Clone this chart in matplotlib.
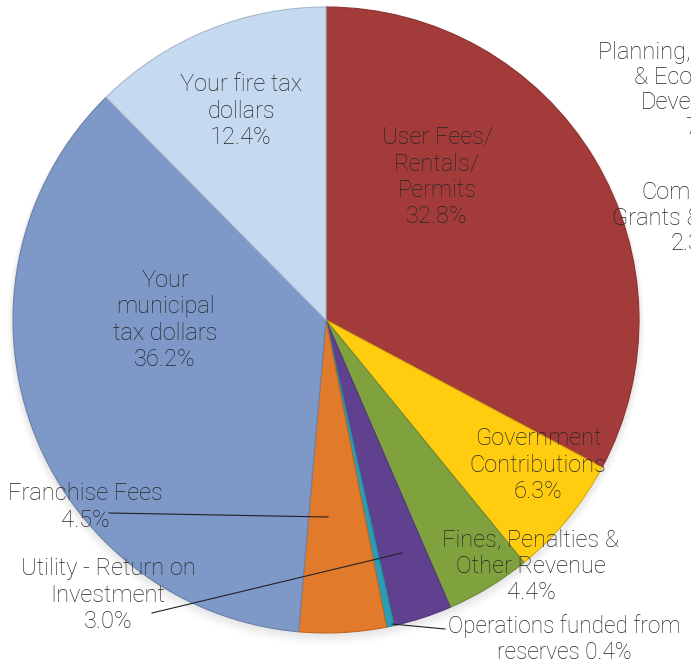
import matplotlib
matplotlib.use("Agg")
import matplotlib.pyplot as plt
import numpy as np

# Revenue sources, clockwise from 12 o'clock
sources = ["User Fees/\nRentals/\nPermits", "Government\nContributions",
           "Fines, Penalties &\nOther Revenue", "Utility - Return on\nInvestment",
           "Operations funded from\nreserves", "Franchise Fees",
           "Your\nmunicipal\ntax dollars", "Your fire tax\ndollars"]
shares = [32.8, 6.3, 4.4, 3.0, 0.4, 4.5, 36.2, 12.4]
colors = ["#A23B39", "#FFCC0F", "#7FA23E", "#5F4190", "#2B9DB5",
          "#E27A2C", "#7E98C8", "#C5D9F0"]
edges = ["#8A3231", "#D9AE0C", "#6C8A35", "#51377A", "#24859A",
         "#C0681F", "#6B81AA", "#A8B8CC"]

W, H = 691, 664
CX, CY, R = 326, 320, 313

plt.rcParams['font.family'] = ['Roboto', 'DejaVu Sans']
fig = plt.figure(figsize=(W / 100, H / 100), dpi=100)
ax = fig.add_axes([0, 0, 1, 1])

# soft shadow under the pie
for i, a in enumerate(np.linspace(0.05, 0.01, 6)):
    ax.add_patch(plt.Circle((0, -2 - i), R + 1 + i, color='#888888', alpha=a, lw=0, zorder=0))

wedges, _ = ax.pie(shares, colors=colors, startangle=90, counterclock=False,
                   radius=R, center=(0, 0), frame=True,
                   wedgeprops=dict(linewidth=0.8))
for w, e in zip(wedges, edges):
    w.set_edgecolor(e)
    w.set_zorder(2)
ax.set_xlim(-CX, W - CX)
ax.set_ylim(-(H - CY), CY)
ax.set_aspect('equal')
ax.axis('off')

def px(x, y):
    return x - CX, CY - y

FS = 17
txt = dict(fontsize=FS, color='#262626', ha='center', va='center',
           fontweight='light', linespacing=1.2, zorder=5)

# (label index, pixel centre)
inner = [(0, 437, 177), (1, 538, 465), (2, 531, 566), (6, 165, 320), (7, 241, 111)]
for i, x, y in inner:
    ax.text(*px(x, y), f"{sources[i]}\n{shares[i]:.1f}%", **txt)

# outside labels with leader lines
ax.text(*px(85, 507), f"{sources[5]}\n{shares[5]:.1f}%", **txt)
ax.plot(*zip(px(109, 513), px(328, 517)), color='#222222', lw=0.8, zorder=4)

ax.text(*px(108, 595), f"{sources[3]}\n{shares[3]:.1f}%", **txt)
ax.plot(*zip(px(152, 613), px(402, 553)), color='#222222', lw=0.8, zorder=4)

ops = dict(txt, fontsize=16.3, linespacing=1.15)
ax.text(*px(564, 639), f"{sources[4]} {shares[4]:.1f}%", **ops)
ax.plot(*zip(px(392, 624), px(445, 629)), color='#222222', lw=0.8, zorder=4)

# labels of the neighbouring chart, cut off at the right edge
side = [("Planning, Building", 598, 52), ("& Economic", 634, 77),
        ("Development", 641, 103), ("7.7%", 685, 128),
        ("Community", 641, 192), ("Grants & Funding", 612, 218), ("2.3%", 671, 243)]
for s, x, y in side:
    ax.text(*px(x, y), s, fontsize=FS, color='#262626', ha='left', va='center',
            fontweight='light', zorder=5, clip_on=False)

fig.savefig("out.png", dpi=100)
